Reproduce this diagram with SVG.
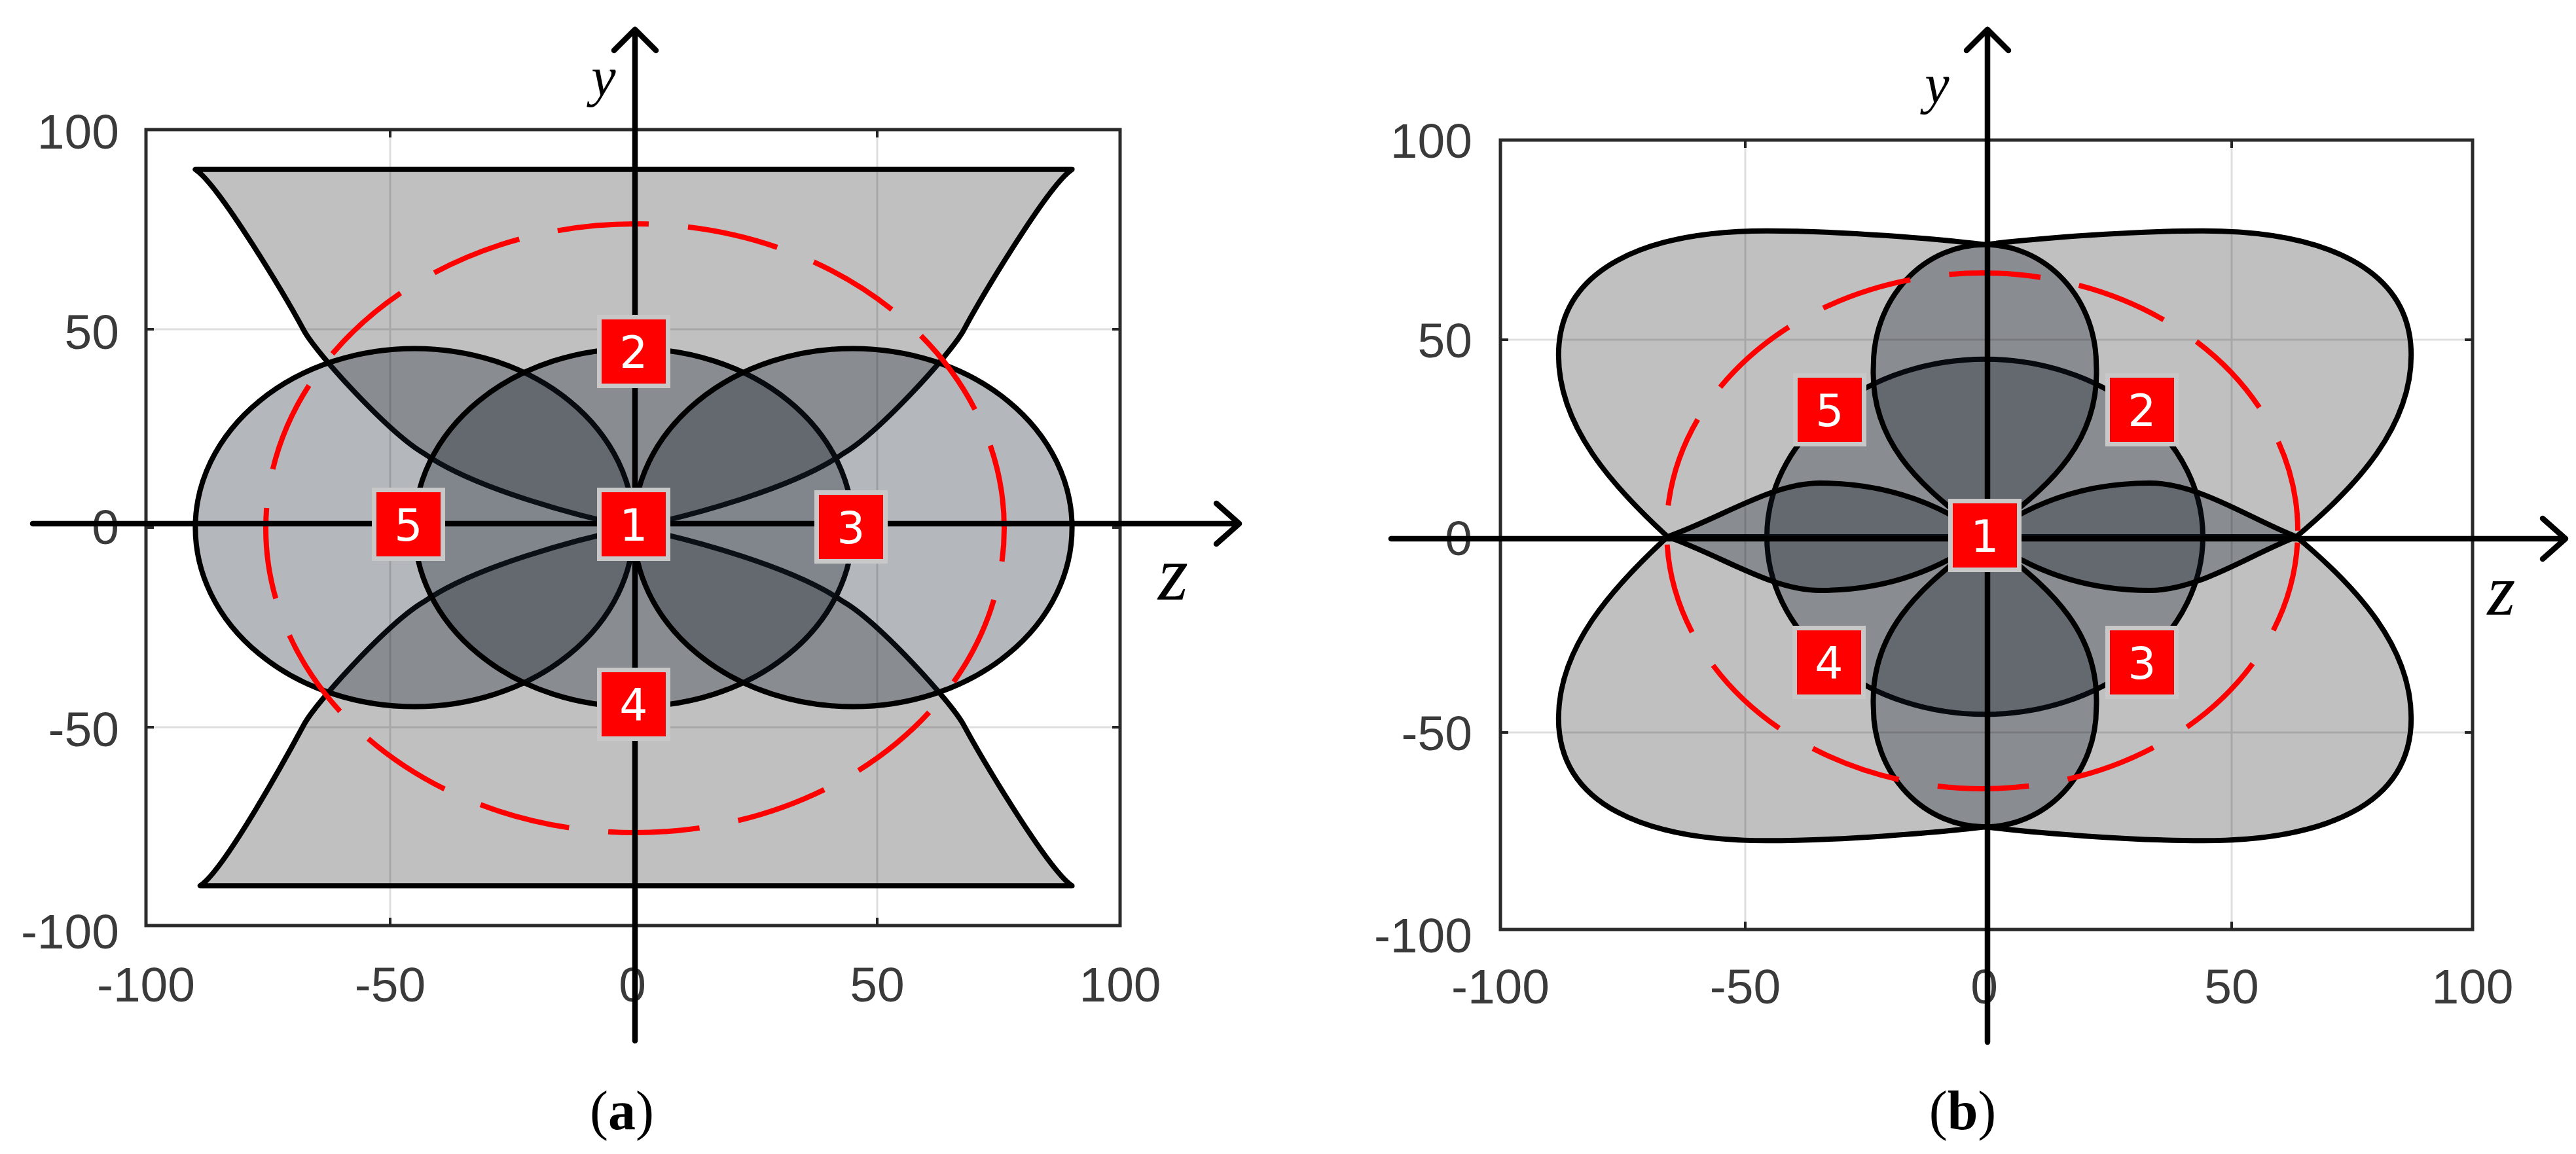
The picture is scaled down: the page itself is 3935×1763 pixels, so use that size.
<svg xmlns="http://www.w3.org/2000/svg" width="3935" height="1763" viewBox="0 0 3935 1763">
<style>
.frame{fill:none;stroke:#2a2a2a;stroke-width:5}
.grid{fill:none;stroke:#000;stroke-opacity:0.13;stroke-width:3}
.tick{stroke:#2a2a2a;stroke-width:4}
.tl{font-family:"Liberation Sans",Arial,sans-serif;font-size:75px;fill:#3a3a3a}
.bg{fill:#c0c0c0;stroke:#000;stroke-width:8;stroke-linejoin:round}
.lobe{fill:#16202a;fill-opacity:0.32;stroke:#000;stroke-width:8;stroke-linejoin:round}
.red{fill:none;stroke:#ff0000;stroke-width:8;stroke-dasharray:140 60}
.axis{fill:none;stroke:#000;stroke-width:8.5;stroke-linecap:round;stroke-linejoin:round}
.lblbox{fill:#c8c8c8}
.lblred{fill:#ff0000}
.num{font-family:"DejaVu Sans",sans-serif;font-size:68px;fill:#ffffff;text-anchor:middle}
.ax{font-family:"Liberation Serif",serif;font-style:italic;text-anchor:middle;fill:#000}
.cap{font-family:"Liberation Serif",serif;font-size:84px;text-anchor:middle;fill:#000}
</style>
<rect width="3935" height="1763" fill="#ffffff"/>

<!-- ===== Panel (a) ===== -->
<g id="panel-a">
  <g id="a-frame">
    <rect class="frame" x="223" y="198" width="1488" height="1216"/>
    <path class="tick" d="M596 198v12M968 198v12M1340 198v12M596 1414v-12M968 1414v-12M1340 1414v-12M223 503h12M223 806h12M223 1111h12M1711 503h-12M1711 806h-12M1711 1111h-12"/>
  </g>
  <g id="a-ticklabels" class="tl">
    <text x="182" y="227" text-anchor="end">100</text>
    <text x="182" y="533" text-anchor="end">50</text>
    <text x="182" y="831" text-anchor="end">0</text>
    <text x="182" y="1140" text-anchor="end">-50</text>
    <text x="182" y="1449" text-anchor="end">-100</text>
    <text x="223" y="1530" text-anchor="middle">-100</text>
    <text x="596" y="1530" text-anchor="middle">-50</text>
    <text x="966" y="1530" text-anchor="middle">0</text>
    <text x="1340" y="1530" text-anchor="middle">50</text>
    <text x="1711" y="1530" text-anchor="middle">100</text>
  </g>
  <g id="a-shapes" transform="translate(968 806) scale(7.44 -6.08)">
    <path id="a-hourglass-top" class="bg" vector-effect="non-scaling-stroke" d="M-90 90 L90 90 C85 86 71 57 67.7 49.5 C65 43.5 50 23.5 43 18.6 C33 10 12 3 0 0 C-12 3 -33 10 -43 18.6 C-50 23.5 -65 43.5 -67.7 49.5 C-71 57 -85 86 -90 90 Z"/>
    <path id="a-hourglass-bottom" class="bg" vector-effect="non-scaling-stroke" d="M-89 -90 L90 -90 C85 -86 71 -57 67.7 -49.5 C65 -43.5 50 -23.5 43 -18.6 C33 -10 12 -3 0 0 C-12 -3 -33 -10 -43 -18.6 C-50 -23.5 -65 -43.5 -67.7 -49.5 C-71 -57 -84 -86 -89 -90 Z"/>
    <ellipse id="a-ellipse-left" class="lobe" vector-effect="non-scaling-stroke" cx="-45" cy="0" rx="45" ry="45"/>
    <ellipse id="a-ellipse-mid" class="lobe" vector-effect="non-scaling-stroke" cx="0" cy="0" rx="45" ry="45"/>
    <ellipse id="a-ellipse-right" class="lobe" vector-effect="non-scaling-stroke" cx="45" cy="0" rx="45" ry="45"/>
  </g>
  <path class="grid" d="M596 198V1414M1340 198V1414M223 503H1711M223 1111H1711"/>
  <ellipse id="a-coverage" class="red" cx="970" cy="807" rx="564" ry="465" stroke-dashoffset="89"/>
</g>

<!-- ===== Panel (b) ===== -->
<g id="panel-b">
  <g id="b-frame">
    <rect class="frame" x="2292" y="214" width="1485" height="1206"/>
    <path class="tick" d="M2666 214v12M3036 214v12M3409 214v12M2666 1420v-12M3036 1420v-12M3409 1420v-12M2292 519h12M2292 821h12M2292 1119h12M3777 519h-12M3777 821h-12M3777 1119h-12"/>
  </g>
  <g id="b-ticklabels" class="tl">
    <text x="2249" y="241" text-anchor="end">100</text>
    <text x="2249" y="546" text-anchor="end">50</text>
    <text x="2249" y="848" text-anchor="end">0</text>
    <text x="2249" y="1146" text-anchor="end">-50</text>
    <text x="2249" y="1455" text-anchor="end">-100</text>
    <text x="2292" y="1533" text-anchor="middle">-100</text>
    <text x="2666" y="1533" text-anchor="middle">-50</text>
    <text x="3031" y="1533" text-anchor="middle">0</text>
    <text x="3409" y="1533" text-anchor="middle">50</text>
    <text x="3777" y="1533" text-anchor="middle">100</text>
  </g>
  <g id="b-shapes" transform="translate(3032 820) scale(7.4 -6.03)">
    <path id="b-big-top" class="bg" vector-effect="non-scaling-stroke" d="M-65.5 0 C-77 13 -88 28 -88 46 C-88 68 -70 77.5 -45 77.5 C-30 77.5 -10 75.5 0 74 C10 75.5 30 77.5 45 77.5 C70 77.5 88 68 88 46 C88 28 77 13 64.3 0 Z"/>
    <path id="b-big-bottom" class="bg" vector-effect="non-scaling-stroke" d="M-65.5 0 C-77 -13 -88 -28 -88 -46 C-88 -68 -70 -77 -45 -77 C-30 -77 -10 -75 0 -73.5 C10 -75 30 -77 45 -77 C70 -77 88 -68 88 -46 C88 -28 77 -13 64.3 0 Z"/>
    <ellipse id="b-circle" class="lobe" vector-effect="non-scaling-stroke" cx="0" cy="0" rx="45" ry="45"/>
    <path id="b-vert-top" class="lobe" vector-effect="non-scaling-stroke" d="M0 0 C8 9 24 20 23 43.5 A23 30.5 0 0 1 -23 43.5 C-24 20 -8 9 0 0 Z"/>
    <path id="b-vert-bottom" class="lobe" vector-effect="non-scaling-stroke" d="M0 0 C8 -9 24 -20 23 -43.5 A23 30 0 0 0 -23 -43.5 C-24 -20 -8 -9 0 0 Z"/>
    <path id="b-horiz-right" class="lobe" vector-effect="non-scaling-stroke" d="M0 0 C6 5.5 17 13.6 34 13.6 C44 13.6 54 5 64.3 0 C54 -5 44 -13.6 34 -13.6 C17 -13.6 6 -5.5 0 0 Z"/>
    <path id="b-horiz-left" class="lobe" vector-effect="non-scaling-stroke" d="M0 0 C-6 5.5 -17 13.6 -34 13.6 C-44 13.6 -54 5 -65.5 0 C-54 -5 -44 -13.6 -34 -13.6 C-17 -13.6 -6 -5.5 0 0 Z"/>
  </g>
  <path class="grid" d="M2666 214V1420M3409 214V1420M2292 519H3777M2292 1119H3777"/>
  <ellipse id="b-coverage" class="red" cx="3028" cy="811" rx="482" ry="394" stroke-dashoffset="182"/>
</g>

<!-- ===== Axes (connectors) ===== -->
<g id="axes">
  <path class="axis" d="M50 800H1893M1858 769L1893 800L1858 831"/>
  <path class="axis" d="M970 1590V45M938 77L970 45L1002 77"/>
  <path class="axis" d="M2125 823H3919M3884 792L3919 823L3884 854"/>
  <path class="axis" d="M3036 1592V45M3004 77L3036 45L3068 77"/>
</g>
<g id="axis-labels" class="ax">
  <text x="922" y="146" font-size="84">y</text>
  <text x="1792" y="916" font-size="118">z</text>
  <text x="2959" y="157" font-size="84">y</text>
  <text x="3821" y="939" font-size="110">z</text>
</g>

<!-- ===== Numbered nodes, panel (a) ===== -->
<g id="a-n1"><rect class="lblbox" x="912" y="745" width="112" height="112"/><rect class="lblred" x="919" y="752" width="98" height="98"/><text class="num" x="968" y="826">1</text></g>
<g id="a-n2"><rect class="lblbox" x="912" y="481" width="112" height="112"/><rect class="lblred" x="919" y="488" width="98" height="98"/><text class="num" x="968" y="562">2</text></g>
<g id="a-n3"><rect class="lblbox" x="1244" y="749" width="112" height="112"/><rect class="lblred" x="1251" y="756" width="98" height="98"/><text class="num" x="1300" y="830">3</text></g>
<g id="a-n4"><rect class="lblbox" x="912" y="1020" width="112" height="112"/><rect class="lblred" x="919" y="1027" width="98" height="98"/><text class="num" x="968" y="1101">4</text></g>
<g id="a-n5"><rect class="lblbox" x="568" y="745" width="112" height="112"/><rect class="lblred" x="575" y="752" width="98" height="98"/><text class="num" x="624" y="826">5</text></g>

<!-- ===== Numbered nodes, panel (b) ===== -->
<g id="b-n1"><rect class="lblbox" x="2976" y="762" width="112" height="112"/><rect class="lblred" x="2983" y="769" width="98" height="98"/><text class="num" x="3032" y="843">1</text></g>
<g id="b-n2"><rect class="lblbox" x="3216" y="570" width="112" height="112"/><rect class="lblred" x="3223" y="577" width="98" height="98"/><text class="num" x="3272" y="651">2</text></g>
<g id="b-n3"><rect class="lblbox" x="3216" y="956" width="112" height="112"/><rect class="lblred" x="3223" y="963" width="98" height="98"/><text class="num" x="3272" y="1037">3</text></g>
<g id="b-n4"><rect class="lblbox" x="2738" y="956" width="112" height="112"/><rect class="lblred" x="2745" y="963" width="98" height="98"/><text class="num" x="2794" y="1037">4</text></g>
<g id="b-n5"><rect class="lblbox" x="2739" y="570" width="112" height="112"/><rect class="lblred" x="2746" y="577" width="98" height="98"/><text class="num" x="2795" y="651">5</text></g>

<!-- ===== Captions ===== -->
<text class="cap" x="950" y="1725">(<tspan font-weight="bold">a</tspan>)</text>
<text class="cap" x="2998" y="1725">(<tspan font-weight="bold">b</tspan>)</text>
</svg>
